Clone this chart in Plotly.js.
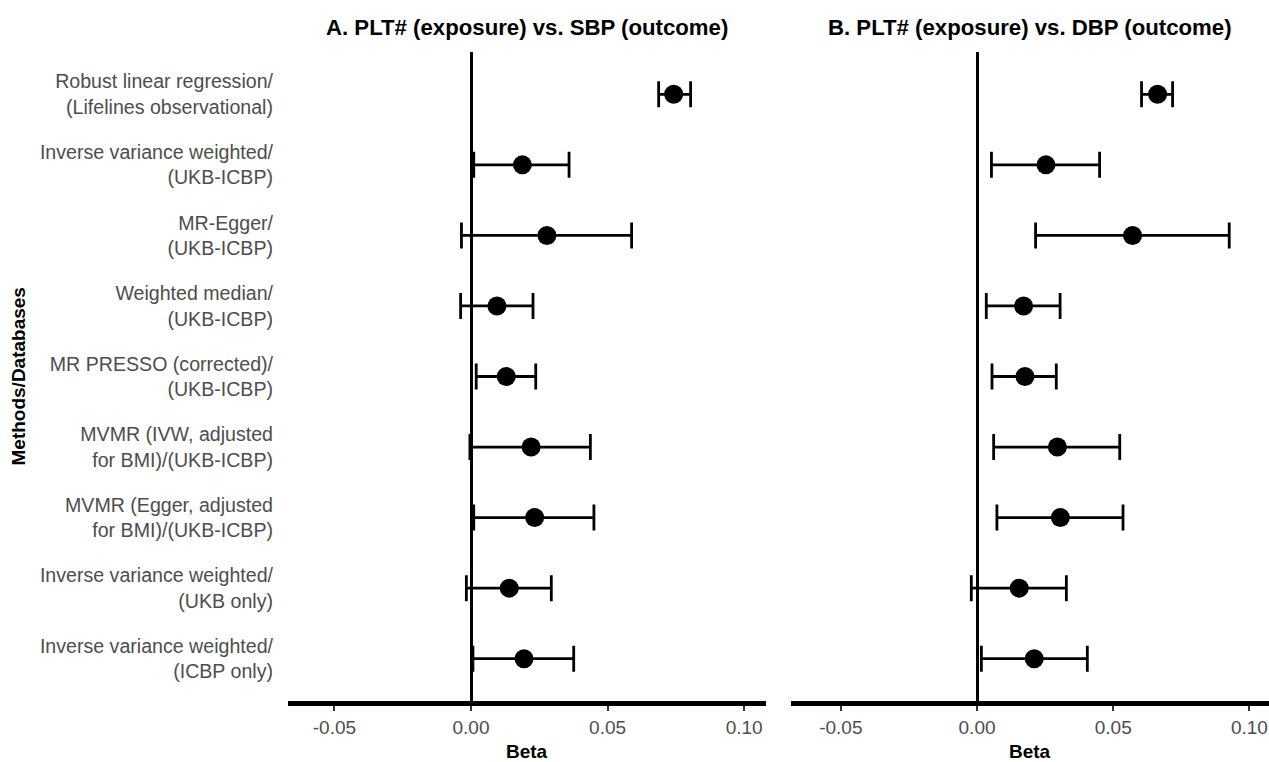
<!DOCTYPE html>
<html>
<head>
<meta charset="utf-8">
<script src="https://cdn.plot.ly/plotly-3.0.1.min.js"></script>
<style>html,body{margin:0;padding:0;background:#fff;}#chart{width:1269px;height:762px;}</style>
</head>
<body>
<div id="chart"></div>
<script>
// Categories, top to bottom
const methods = [
  "Robust linear regression/<br>(Lifelines observational)",
  "Inverse variance weighted/<br>(UKB-ICBP)",
  "MR-Egger/<br>(UKB-ICBP)",
  "Weighted median/<br>(UKB-ICBP)",
  "MR PRESSO (corrected)/<br>(UKB-ICBP)",
  "MVMR (IVW, adjusted<br>for BMI)/(UKB-ICBP)",
  "MVMR (Egger, adjusted<br>for BMI)/(UKB-ICBP)",
  "Inverse variance weighted/<br>(UKB only)",
  "Inverse variance weighted/<br>(ICBP only)"
];

// Panel A: PLT# vs SBP
const sbpBeta  = [0.0742, 0.0188, 0.0278, 0.0095, 0.0129, 0.0220, 0.0233, 0.0140, 0.0194];
const sbpLower = [0.0687, 0.0010, -0.0035, -0.0038, 0.0019, -0.0004, 0.0010, -0.0017, 0.0007];
const sbpUpper = [0.0804, 0.0359, 0.0588, 0.0227, 0.0237, 0.0437, 0.0450, 0.0294, 0.0376];

// Panel B: PLT# vs DBP
const dbpBeta  = [0.0663, 0.0253, 0.0571, 0.0171, 0.0176, 0.0295, 0.0306, 0.0155, 0.0210];
const dbpLower = [0.0604, 0.0053, 0.0215, 0.0034, 0.0055, 0.0061, 0.0073, -0.0021, 0.0016];
const dbpUpper = [0.0718, 0.0450, 0.0926, 0.0305, 0.0291, 0.0524, 0.0536, 0.0328, 0.0405];

const tickVals = [-0.05, 0, 0.05, 0.10];
const tickText = ["-0.05", "0.00", "0.05", "0.10"];

const titleA = "A. PLT# (exposure) vs. SBP (outcome)";
const titleB = "B. PLT# (exposure) vs. DBP (outcome)";
const xTitle = "Beta";
const yTitle = "Methods/Databases";

function trace(beta, lower, upper, xa, ya) {
  return {
    type: "scatter", mode: "markers",
    x: beta, y: methods, xaxis: xa, yaxis: ya,
    marker: {color: "#000000", size: 19},
    error_x: {
      type: "data", symmetric: false,
      array: upper.map((u, i) => u - beta[i]),
      arrayminus: lower.map((l, i) => beta[i] - l),
      color: "#000000", thickness: 2.8, width: 13
    },
    hoverinfo: "x+y", showlegend: false, cliponaxis: false
  };
}

const font = "Liberation Sans, Arial, sans-serif";
const tickFont = {family: font, size: 19, color: "#4D4D4D"};
const boldFont = {family: font, size: 19, color: "#000000", weight: "bold"};

function xaxis(domain, range, anchor) {
  return {
    domain: domain, range: range, anchor: anchor,
    tickvals: tickVals, ticktext: tickText,
    ticks: "outside", ticklen: 5, tickwidth: 2, tickcolor: "#333333",
    tickfont: tickFont,
    showline: true, linecolor: "#000000", linewidth: 5,
    showgrid: false,
    zeroline: true, zerolinecolor: "#000000", zerolinewidth: 3,
    fixedrange: true
  };
}

const yBase = {
  type: "category", categoryarray: methods, categoryorder: "array",
  range: [8.6, -0.6], autorange: false,
  showgrid: false, zeroline: false, showline: false,
  fixedrange: true
};

const layout = {
  width: 1269, height: 762,
  margin: {l: 0, r: 0, t: 52, b: 61},
  paper_bgcolor: "#ffffff", plot_bgcolor: "#ffffff",
  font: {family: font},
  xaxis: xaxis([288/1269, 766/1269], [-0.067, 0.108], "y"),
  xaxis2: xaxis([791/1269, 1], [-0.0683, 0.1072], "y2"),
  yaxis: Object.assign({}, yBase, {
    anchor: "x", domain: [0, 1],
    ticks: "", ticklabelstandoff: 14,
    tickfont: {family: font, size: 19.6, color: "#4D4D4D"}
  }),
  yaxis2: Object.assign({}, yBase, {
    anchor: "x2", domain: [0, 1], showticklabels: false, ticks: ""
  }),
  annotations: [
    {text: titleA, xref: "paper", yref: "paper", x: (288 + 766) / 2 / 1269, y: 1, yshift: 25,
     xanchor: "center", yanchor: "middle", showarrow: false,
     font: {family: font, size: 22.2, color: "#000000", weight: "bold"}},
    {text: titleB, xref: "paper", yref: "paper", x: (791 + 1269) / 2 / 1269, y: 1, yshift: 25,
     xanchor: "center", yanchor: "middle", showarrow: false,
     font: {family: font, size: 22.2, color: "#000000", weight: "bold"}},
    {text: xTitle, xref: "paper", yref: "paper", x: (288 + 766) / 2 / 1269, y: 0, yshift: -50,
     xanchor: "center", yanchor: "middle", showarrow: false, font: boldFont},
    {text: xTitle, xref: "paper", yref: "paper", x: (791 + 1269) / 2 / 1269, y: 0, yshift: -50,
     xanchor: "center", yanchor: "middle", showarrow: false, font: boldFont},
    {text: yTitle, xref: "paper", yref: "paper", x: 18 / 1269, y: 0.5, textangle: -90,
     xanchor: "center", yanchor: "middle", showarrow: false, font: boldFont}
  ]
};

Plotly.newPlot("chart", [
  trace(sbpBeta, sbpLower, sbpUpper, "x", "y"),
  trace(dbpBeta, dbpLower, dbpUpper, "x2", "y2")
], layout, {displayModeBar: false, staticPlot: true});
</script>
</body>
</html>
